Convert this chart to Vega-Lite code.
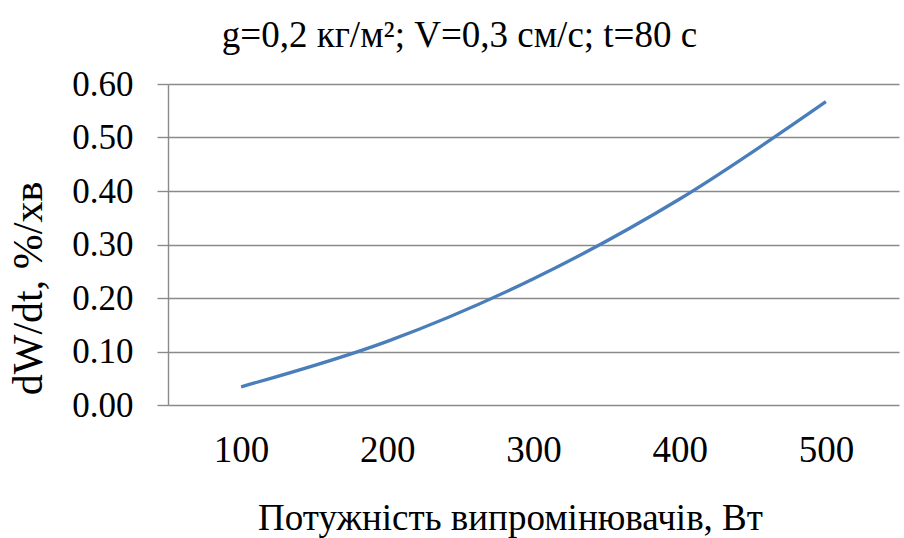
{
  "$schema": "https://vega.github.io/schema/vega-lite/v6.json",
  "width": 731,
  "height": 321,
  "autosize": {"type": "none"},
  "padding": {"left": 168, "top": 84, "right": 5, "bottom": 133},
  "background": "white",
  "title": {
    "text": "g=0,2 кг/м²; V=0,3 см/с; t=80 с",
    "font": "Liberation Serif",
    "fontSize": 37,
    "fontWeight": "normal",
    "color": "black",
    "anchor": "middle",
    "dx": -74,
    "dy": 53,
    "baseline": "alphabetic",
    "offset": 36
  },
  "data": {
    "values": [
      {"power": 100, "rate": 0.034},
      {"power": 200, "rate": 0.119},
      {"power": 300, "rate": 0.236},
      {"power": 400, "rate": 0.385},
      {"power": 500, "rate": 0.567}
    ]
  },
  "config": {
    "view": {"stroke": null},
    "axis": {
      "labelFont": "Liberation Serif",
      "titleFont": "Liberation Serif",
      "labelColor": "black",
      "titleColor": "black",
      "titleFontWeight": "normal"
    }
  },
  "mark": {"type": "line", "interpolate": "monotone", "color": "#4a7ebb", "strokeWidth": 3.3},
  "encoding": {
    "x": {
      "field": "power",
      "type": "quantitative",
      "scale": {"domain": [50, 550], "nice": false, "zero": false},
      "axis": {
        "values": [100, 200, 300, 400, 500],
        "grid": false,
        "ticks": false,
        "domain": false,
        "labelFontSize": 37,
        "labelPadding": 27,
        "title": "Потужність випромінювачів, Вт",
        "titleFontSize": 37,
        "titleX": 342,
        "titleY": 124,
        "titleBaseline": "alphabetic",
        "titleAnchor": "middle",
        "titleAlign": "center"
      }
    },
    "y": {
      "field": "rate",
      "type": "quantitative",
      "scale": {"domain": [0, 0.6], "nice": false},
      "axis": {
        "values": [0, 0.1, 0.2, 0.3, 0.4, 0.5, 0.6],
        "format": ".2f",
        "grid": true,
        "gridColor": "#8a8a8a",
        "gridWidth": 1.4,
        "domain": true,
        "domainColor": "#8a8a8a",
        "domainWidth": 1.4,
        "ticks": true,
        "tickColor": "#8a8a8a",
        "tickWidth": 1.4,
        "tickSize": 11,
        "labelFontSize": 35,
        "labelPadding": 24,
        "title": "dW/dt, %/хв",
        "titleFontSize": 42,
        "titleAngle": -90,
        "titleX": -140,
        "titleY": 204,
        "titleAlign": "center",
        "titleBaseline": "middle"
      }
    }
  }
}
